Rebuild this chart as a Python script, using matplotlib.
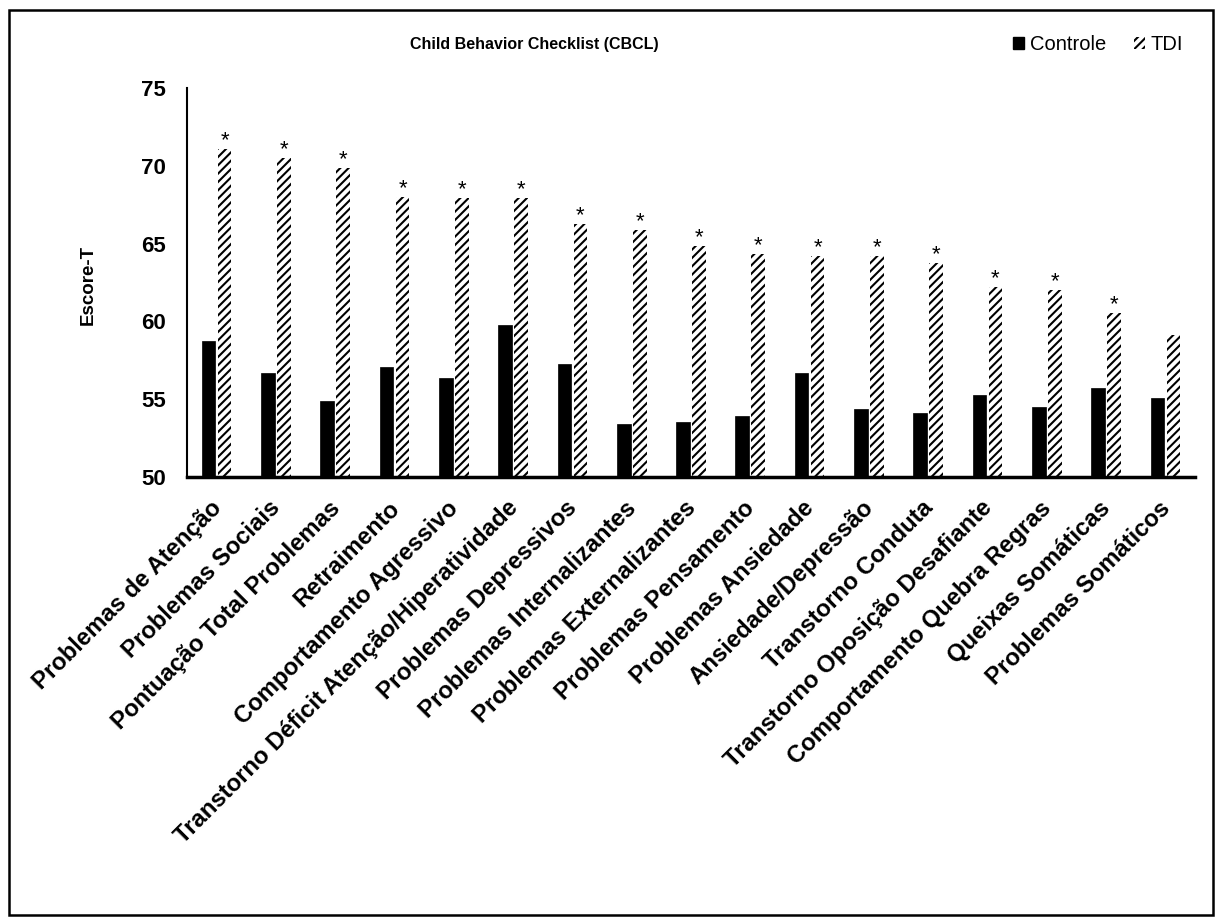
import matplotlib
matplotlib.use("Agg")
import matplotlib.pyplot as plt
import numpy as np
from matplotlib.patches import Patch, Rectangle
from matplotlib.transforms import ScaledTranslation

categories = [
    "Problemas de Atenção", "Problemas Sociais", "Pontuação Total Problemas",
    "Retraimento", "Comportamento Agressivo",
    "Transtorno Déficit Atenção/Hiperatividade", "Problemas Depressivos",
    "Problemas Internalizantes", "Problemas Externalizantes",
    "Problemas Pensamento", "Problemas Ansiedade", "Ansiedade/Depressão",
    "Transtorno Conduta", "Transtorno Oposição Desafiante",
    "Comportamento Quebra Regras", "Queixas Somáticas", "Problemas Somáticos",
]
controle = [58.75, 56.7, 54.9, 57.1, 56.35, 59.8, 57.25, 53.4, 53.55,
            53.9, 56.7, 54.4, 54.1, 55.3, 54.5, 55.75, 55.05]
tdi = [71.05, 70.5, 69.85, 68.0, 67.95, 67.9, 66.25, 65.9, 64.85,
       64.35, 64.2, 64.2, 63.75, 62.2, 62.0, 60.55, 59.1]
significant = [True] * 16 + [False]
yticks = [50, 55, 60, 65, 70, 75]

plt.rcParams['font.family'] = ['Liberation Sans', 'DejaVu Sans']
plt.rcParams['hatch.linewidth'] = 1.5

fig = plt.figure(figsize=(12.22, 9.22), dpi=100)
ax = fig.add_axes([187/1222, 1-477/922, (1195-187)/1222, (477-88)/922])

x = np.arange(len(categories))
w = 0.23
off = 0.135
ax.bar(x - off, controle, width=w, color='black', edgecolor='black',
       linewidth=0.5, label='Controle')
ax.bar(x + off, tdi, width=w, color='white', edgecolor='black',
       linewidth=0, hatch='////', label='TDI')

for xi, v, s in zip(x, tdi, significant):
    if s:
        ax.annotate('*', (xi + off, v), xytext=(0, 6), textcoords='offset points',
                    ha='center', va='center', fontsize=16)

ax.set_xlim(-0.5, len(categories) - 0.5)
ax.set_ylim(50, 75)
ax.set_yticks(yticks)
ax.set_yticklabels([str(t) for t in yticks], fontsize=16, fontweight='bold')
ax.tick_params(axis='y', length=0, pad=15)
ax.set_xticks(x)
ax.set_xticklabels(categories, rotation=45, ha='right', rotation_mode='anchor',
                   fontsize=17.2, fontweight='bold')
ax.tick_params(axis='x', length=0, pad=14)
shift = ScaledTranslation(-7/100, 0, fig.dpi_scale_trans)
for lbl in ax.get_xticklabels():
    lbl.set_transform(lbl.get_transform() + shift)

for sp in ['top', 'right']:
    ax.spines[sp].set_visible(False)
ax.spines['left'].set_linewidth(1.5)
ax.spines['bottom'].set_linewidth(2.5)

fig.text(88/1222, 1-285/922, 'Escore-T', rotation=90, ha='center', va='center',
         fontsize=13.5, fontweight='bold')
fig.text(534/1222, 1-45/922, 'Child Behavior Checklist (CBCL)', ha='center',
         va='center', fontsize=11.5, fontweight='bold')

handles = [Patch(facecolor='black', edgecolor='black', label='Controle'),
           Patch(facecolor='white', edgecolor='black', linewidth=0,
                 hatch='////', label='TDI')]
leg = fig.legend(handles=handles, loc='center', bbox_to_anchor=(1098/1222, 1-45/922),
                 ncol=2, frameon=False, prop={'size': 14.5},
                 handlelength=0.55, handleheight=0.55, handletextpad=0.25,
                 columnspacing=1.4)

fig.patches.append(Rectangle((9/1222, 1-915/922), (1213-9)/1222, (915-10)/922,
                             transform=fig.transFigure, fill=False,
                             edgecolor='black', linewidth=1.8))

fig.savefig('out.png', dpi=100, facecolor='white')
